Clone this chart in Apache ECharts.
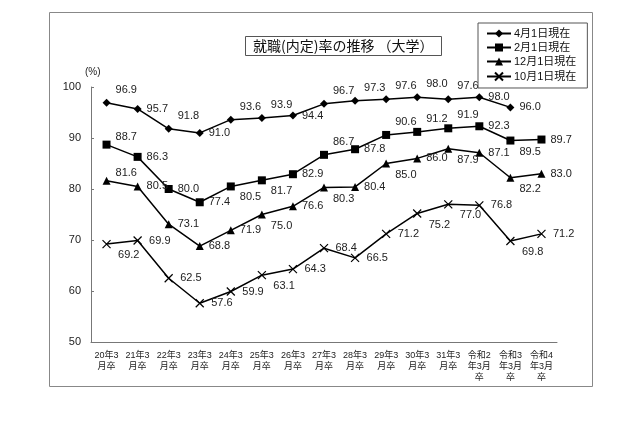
<!DOCTYPE html>
<html>
<head>
<meta charset="utf-8">
<script src="https://cdn.jsdelivr.net/npm/echarts@6/dist/echarts.min.js"></script>
<style>
	html, body { margin: 0; padding: 0; background: #fff; }
	#chart { width: 640px; height: 426px; }
</style>
</head>
<body>
<div id="chart"></div>
<script>
	// 卒業年次（x軸）
	let categories = [
		'20年3\n月卒', '21年3\n月卒', '22年3\n月卒', '23年3\n月卒', '24年3\n月卒',
		'25年3\n月卒', '26年3\n月卒', '27年3\n月卒', '28年3\n月卒', '29年3\n月卒',
		'30年3\n月卒', '31年3\n月卒', '令和2\n年3月\n卒', '令和3\n年3月\n卒', '令和4\n年3月\n卒'
	];
	let series_names = ['4月1日現在', '2月1日現在', '12月1日現在', '10月1日現在'];

	// 就職（内定）率
	let apr1 = [96.9, 95.7, 91.8, 91.0, 93.6, 93.9, 94.4, 96.7, 97.3, 97.6, 98.0, 97.6, 98.0, 96.0, null];
	let feb1 = [88.7, 86.3, 80.0, 77.4, 80.5, 81.7, 82.9, 86.7, 87.8, 90.6, 91.2, 91.9, 92.3, 89.5, 89.7];
	let dec1 = [81.6, 80.5, 73.1, 68.8, 71.9, 75.0, 76.6, 80.3, 80.4, 85.0, 86.0, 87.9, 87.1, 82.2, 83.0];
	let oct1 = [69.2, 69.9, 62.5, 57.6, 59.9, 63.1, 64.3, 68.4, 66.5, 71.2, 75.2, 77.0, 76.8, 69.8, 71.2];

	let y_ticks = [50, 60, 70, 80, 90, 100];

	// ラベルの置き方 t:右上 u:やや右上 r:右 b:右下
	let apr1_pos = ['t','r','t','r','t','t','r','t','t','t','t','t','r','r','r'];
	let feb1_pos = ['u','r','r','r','b','b','r','t','r','t','t','t','r','b','r'];
	let dec1_pos = ['u','r','r','r','r','b','r','b','r','b','r','b','r','b','r'];
	let oct1_pos = ['b','r','r','r','r','b','r','r','r','r','b','b','r','b','r'];

	let offsets = { t: [0, -13], u: [0, -8], r: [0, 0], b: [0, 11] };
	let num_font = '"Liberation Sans", "Noto Sans CJK JP", sans-serif';
	let cjk_font = '"Noto Sans CJK JP", sans-serif';

	let chart = echarts.init(document.getElementById('chart'), null, { renderer: 'canvas' });

	let make_data = function(values, pos){
		return values.map(function(v, i){
			if(v === null) return '-';
			return {
				value: v,
				label: { offset: offsets[pos[i]] }
			};
		});
	};

	let series_template = function(name, values, pos, symbol, size){
		return {
			name: name,
			type: 'line',
			data: make_data(values, pos),
			symbol: symbol,
			symbolSize: size,
			showAllSymbol: true,
			connectNulls: false,
			lineStyle: { color: '#000', width: 1.5 },
			itemStyle: { color: '#000' },
			label: {
				show: true,
				position: 'right',
				distance: 5,
				color: '#222',
				fontSize: 11,
				fontFamily: num_font,
				formatter: function(p){ return p.value.toFixed(1); }
			},
			emphasis: { disabled: true },
			animation: false
		};
	};

	let cross = series_template(series_names[3], oct1, oct1_pos, 'path://M0,0L10,10M10,0L0,10', 8);
	cross.itemStyle = { color: 'none', borderColor: '#000', borderWidth: 1.2 };

	let options = {
		backgroundColor: '#fff',
		title: {
			text: '就職(内定)率の推移 （大学）',
			left: 245,
			top: 36,
			padding: [3, 8, 3, 8],
			borderColor: '#555',
			borderWidth: 1,
			textStyle: { fontSize: 14, fontWeight: 'normal', color: '#111', fontFamily: cjk_font }
		},
		legend: {
			orient: 'vertical',
			left: 478,
			top: 23,
			padding: [5, 11, 5, 8],
			itemWidth: 24,
			itemHeight: 10,
			itemGap: 3,
			borderColor: '#555',
			borderWidth: 1,
			textStyle: { fontSize: 11, color: '#111', fontFamily: num_font, padding: [0, 0, 0, -2] },
			data: series_names
		},
		grid: { left: 91, right: 83, top: 87, bottom: 84 },
		xAxis: {
			type: 'category',
			boundaryGap: true,
			data: categories,
			axisLine: { lineStyle: { color: '#777' } },
			axisTick: { inside: true, length: 4, lineStyle: { color: '#777' } },
			axisLabel: {
				margin: 8,
				fontSize: 9,
				lineHeight: 11,
				color: '#222',
				fontFamily: num_font,
				interval: 0
			}
		},
		yAxis: {
			type: 'value',
			min: y_ticks[0],
			max: y_ticks[y_ticks.length - 1],
			interval: 10,
			name: '(%)',
			nameGap: 10,
			nameTextStyle: { fontSize: 10, color: '#222', fontFamily: num_font, align: 'left', padding: [0, 0, 0, -6] },
			axisLine: { show: true, lineStyle: { color: '#777' } },
			axisTick: { show: true, inside: true, length: 3, lineStyle: { color: '#777' } },
			splitLine: { show: false },
			axisLabel: { margin: 10, fontSize: 11, color: '#222', fontFamily: num_font }
		},
		graphic: [
			{
				type: 'rect',
				shape: { x: 49.5, y: 12.5, width: 543, height: 374 },
				style: { fill: 'none', stroke: '#888', lineWidth: 1 },
				silent: true
			}
		],
		series: [
			series_template(series_names[0], apr1, apr1_pos, 'diamond', 8),
			series_template(series_names[1], feb1, feb1_pos, 'rect', 8),
			series_template(series_names[2], dec1, dec1_pos, 'triangle', 8),
			cross
		]
	};
	chart.setOption(options);
</script>
</body>
</html>
